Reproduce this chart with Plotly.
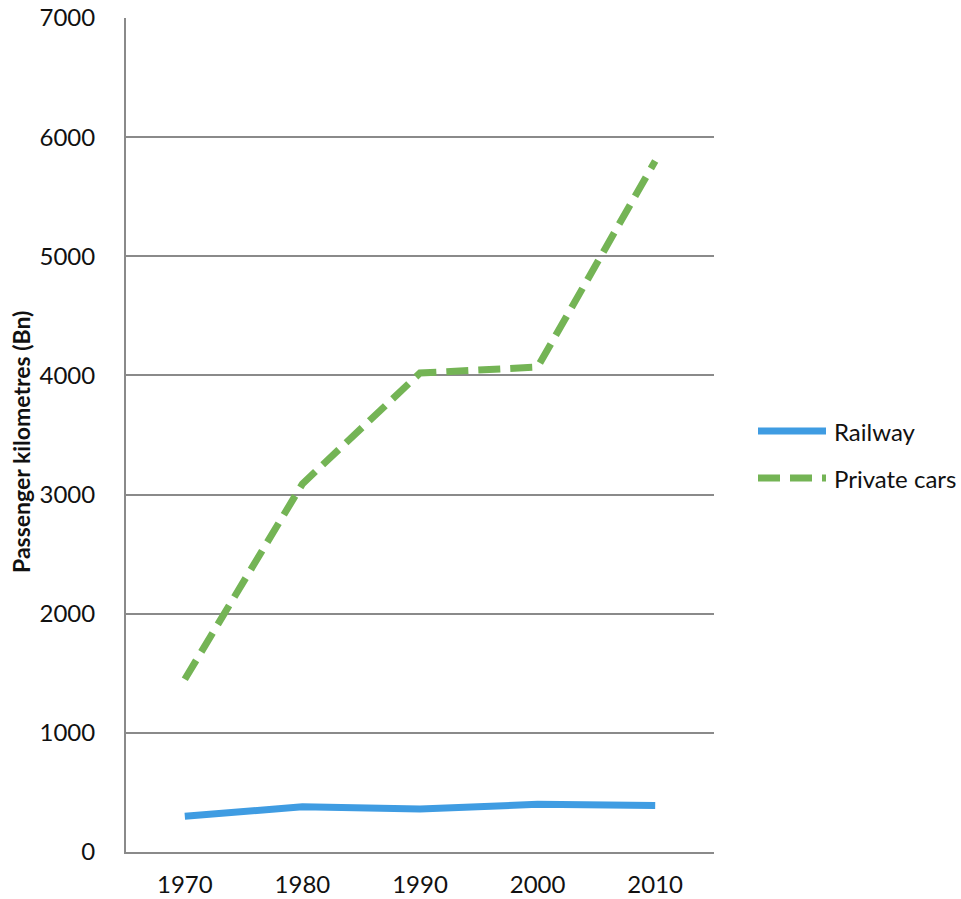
import plotly.graph_objects as go

years = ["1970", "1980", "1990", "2000", "2010"]
railway = [300, 380, 360, 400, 390]
private_cars = [1450, 3090, 4020, 4070, 5800]
y_ticks = [0, 1000, 2000, 3000, 4000, 5000, 6000, 7000]

BLUE = "#3F9CE2"
GREEN = "#74B455"
GRID = "#8A8A8A"
FONT = "Lato"

W, H = 961, 899
L, R, T, B = 126, 247, 18, 47
PW, PH = W - L - R, H - T - B

fig = go.Figure()
fig.add_trace(go.Scatter(x=years, y=railway, mode="lines", name="Railway",
                         line=dict(color=BLUE, width=7), showlegend=False))
fig.add_trace(go.Scatter(x=years, y=private_cars, mode="lines", name="Private cars",
                         line=dict(color=GREEN, width=7, dash="22px,10px"),
                         showlegend=False))

fig.update_layout(
    width=W, height=H,
    margin=dict(l=L, r=R, t=T, b=B, autoexpand=False),
    paper_bgcolor="white", plot_bgcolor="white",
    font=dict(family=FONT, size=24, color="#111111"),
    xaxis=dict(type="category", range=[-0.5, 4.5], showgrid=False,
               showline=True, linecolor=GRID, linewidth=2, ticks="",
               ticklabelstandoff=10, zeroline=False, automargin=False),
    yaxis=dict(range=[0, 7000], tickvals=y_ticks, showgrid=True,
               gridcolor=GRID, gridwidth=2, showline=True, linecolor=GRID,
               linewidth=2, ticks="", ticklabelstandoff=24, zeroline=False,
               automargin=False),
)

# y-axis title
fig.add_annotation(text="<b>Passenger kilometres (Bn)</b>", textangle=-90,
                   xref="paper", yref="paper", x=(21 - L) / PW, y=1 - (442 - T) / PH,
                   xanchor="center", yanchor="middle",
                   showarrow=False, font=dict(family=FONT, size=23, color="#111111"))

# legend drawn beside the plot area
def px_x(px):
    return (px - L) / PW

def px_y(py):
    return 1 - (py - T) / PH

legend_items = [("Railway", BLUE, "solid", 431), ("Private cars", GREEN, "22px,10px", 478)]
for label, color, dash, ypx in legend_items:
    fig.add_shape(type="line", xref="paper", yref="paper",
                  x0=px_x(758), x1=px_x(826), y0=px_y(ypx), y1=px_y(ypx),
                  line=dict(color=color, width=7, dash=dash))
    fig.add_annotation(text=label, xref="paper", yref="paper",
                       x=px_x(832), y=px_y(ypx), xanchor="left", yanchor="middle",
                       showarrow=False, font=dict(family=FONT, size=24, color="#111111"))

fig.write_html("out.html")
